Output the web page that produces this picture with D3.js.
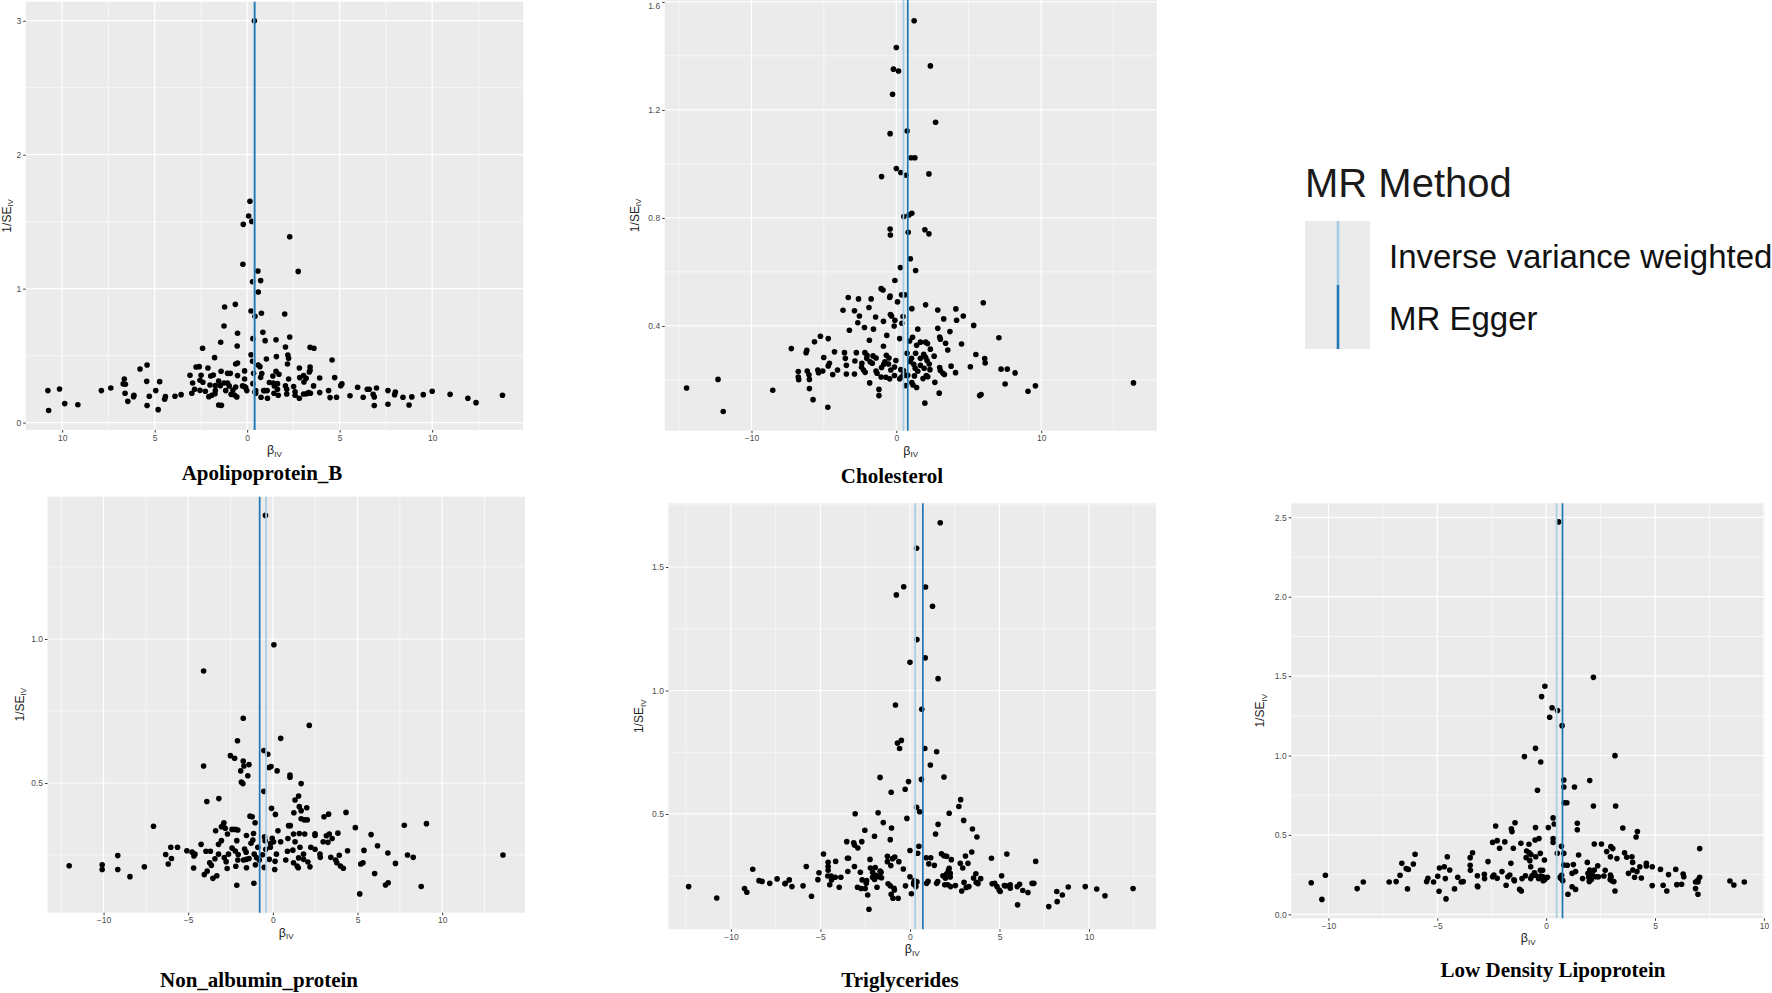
<!DOCTYPE html>
<html>
<head>
<meta charset="utf-8">
<script src="https://cdn.jsdelivr.net/npm/d3@7"></script>
<style>
body{margin:0;background:#fff}
svg{display:block}
</style>
</head>
<body>
<div id="chart"></div>
<script>
// panel titles (one funnel plot per exposure)
var titles=["Apolipoprotein_B","Cholesterol","Non_albumin_protein","Triglycerides","Low Density Lipoprotein"]
var methods=["Inverse variance weighted","MR Egger"]

// [beta_IV, 1/SE_IV] per SNP
var apoB=[[0.39,3.0],[0.15,1.652],[0.08,1.542],[0.25,1.502],[-0.21,1.48],[2.30,1.388],[-0.23,1.182],[2.76,1.129],[0.58,1.132],[0.73,1.06],[0.29,1.052],[0.60,0.975],[-1.22,0.863],[-0.64,0.883],[0.21,0.833],[0.77,0.816],[2.03,0.811],[0.42,0.794],[-1.25,0.721],[0.85,0.674],[-0.52,0.667],[0.31,0.627],[0.97,0.612],[1.56,0.619],[2.30,0.639],[-1.43,0.600],[-2.41,0.555],[-0.54,0.572],[3.40,0.562],[3.61,0.555],[2.07,0.565],[0.21,0.507],[2.20,0.505],[2.24,0.480],[-1.76,0.485],[1.58,0.493],[1.04,0.475],[4.59,0.468],[0.29,0.458],[-0.52,0.445],[-0.62,0.438],[-5.41,0.430],[-5.79,0.400],[-2.76,0.415],[-2.59,0.418],[-2.12,0.408],[0.60,0.430],[0.69,0.418],[2.18,0.438],[2.82,0.408],[3.40,0.415],[3.40,0.391],[3.36,0.378],[1.56,0.383],[1.72,0.361],[-1.41,0.383],[-1.06,0.368],[-0.91,0.368],[-1.83,0.356],[-3.09,0.353],[-2.49,0.353],[-1.97,0.348],[-0.14,0.386],[0.35,0.368],[0.79,0.366],[3.05,0.351],[2.84,0.336],[3.19,0.331],[3.92,0.333],[4.73,0.336],[1.39,0.348],[0.73,0.338],[2.24,0.326],[-6.64,0.326],[-5.43,0.308],[-4.73,0.306],[-2.55,0.316],[-2.95,0.296],[-2.39,0.301],[-1.54,0.311],[-1.25,0.296],[-1.06,0.296],[-0.14,0.326],[1.20,0.299],[1.41,0.296],[1.64,0.291],[3.07,0.303],[5.12,0.289],[-6.70,0.289],[-6.58,0.286],[-2.01,0.281],[-1.72,0.276],[-1.45,0.276],[-0.25,0.274],[0.31,0.291],[1.47,0.274],[2.07,0.274],[2.51,0.269],[3.59,0.274],[5.06,0.276],[5.97,0.264],[6.60,0.249],[6.99,0.259],[6.49,0.249],[-10.14,0.251],[-10.77,0.239],[-7.88,0.239],[-7.37,0.259],[-4.94,0.239],[-2.84,0.249],[-2.55,0.241],[-2.26,0.234],[-1.72,0.239],[-1.16,0.239],[-0.77,0.244],[-0.02,0.239],[0.46,0.239],[0.89,0.239],[1.08,0.239],[1.64,0.249],[2.14,0.249],[2.59,0.231],[3.32,0.224],[4.40,0.239],[7.61,0.239],[8.01,0.229],[10.0,0.234],[-6.60,0.219],[-2.99,0.219],[-1.74,0.216],[-0.87,0.211],[-0.69,0.206],[1.45,0.219],[2.59,0.204],[3.05,0.214],[3.20,0.216],[3.42,0.219],[3.92,0.224],[6.81,0.211],[7.97,0.209],[10.97,0.211],[13.8,0.204],[-6.12,0.204],[-5.29,0.197],[-4.42,0.194],[-3.90,0.197],[-3.57,0.209],[-2.07,0.194],[-1.91,0.204],[-0.56,0.192],[0.75,0.189],[1.68,0.204],[2.14,0.214],[4.83,0.189],[5.56,0.201],[6.27,0.189],[8.42,0.189],[8.90,0.192],[9.52,0.209],[11.93,0.182],[-6.14,0.194],[-4.46,0.174],[1.10,0.182],[2.82,0.182],[4.48,0.187],[6.87,0.192],[-6.45,0.159],[-9.86,0.142],[-9.15,0.134],[-5.41,0.127],[-1.54,0.132],[-1.39,0.129],[6.87,0.127],[7.61,0.137],[8.75,0.132],[12.37,0.149],[-10.73,0.090],[-4.81,0.097],[0.46,0.219],[0.42,0.229],[0.95,0.239],[-0.97,0.274],[-0.14,0.269],[-0.52,0.351],[-0.62,0.266],[-0.08,0.261]]

var chol=[[1.23,1.530],[0.0,1.431],[-0.20,1.351],[0.15,1.344],[2.35,1.363],[-0.26,1.258],[2.71,1.154],[-0.43,1.112],[0.74,1.122],[1.02,1.023],[1.28,1.023],[0.0,0.983],[0.31,0.968],[0.66,0.958],[2.25,0.963],[-1.02,0.953],[1.07,0.817],[0.87,0.811],[0.51,0.805],[-0.43,0.759],[-0.41,0.737],[0.82,0.747],[1.97,0.756],[2.25,0.741],[0.97,0.649],[0.28,0.616],[1.33,0.605],[-0.10,0.568],[-1.05,0.538],[-0.92,0.533],[-0.43,0.511],[-0.46,0.505],[0.36,0.515],[0.59,0.515],[-3.32,0.505],[-2.61,0.500],[-1.74,0.500],[0.08,0.489],[2.02,0.478],[6.00,0.486],[-1.89,0.468],[1.07,0.464],[-3.68,0.458],[-2.89,0.456],[2.86,0.459],[4.11,0.463],[-2.55,0.437],[-1.43,0.433],[-0.41,0.442],[-0.33,0.437],[0.46,0.435],[4.62,0.437],[3.27,0.426],[-0.10,0.421],[4.16,0.421],[-0.89,0.417],[-2.66,0.412],[0.38,0.410],[5.34,0.402],[-0.15,0.400],[-2.20,0.394],[-1.58,0.388],[1.48,0.388],[2.86,0.391],[-3.24,0.384],[3.70,0.379],[-0.66,0.365],[-5.24,0.362],[-4.70,0.353],[0.23,0.353],[1.12,0.358],[2.99,0.359],[3.04,0.351],[7.08,0.356],[-5.65,0.341],[0.92,0.344],[1.66,0.340],[2.02,0.340],[2.15,0.335],[3.40,0.336],[4.50,0.333],[-1.86,0.347],[-0.89,0.325],[1.40,0.328],[-7.25,0.316],[-6.18,0.310],[3.55,0.311],[2.35,0.314],[-6.23,0.301],[-4.27,0.304],[-3.58,0.301],[-2.76,0.301],[-2.17,0.301],[-2.02,0.291],[-1.61,0.289],[-0.69,0.291],[0.74,0.299],[1.33,0.299],[1.89,0.295],[5.49,0.294],[-5.01,0.283],[-3.52,0.280],[-2.04,0.280],[-1.40,0.281],[-0.51,0.281],[1.05,0.280],[1.66,0.280],[2.02,0.284],[2.61,0.288],[6.10,0.279],[-2.86,0.270],[-1.81,0.267],[-0.79,0.267],[-0.03,0.272],[0.95,0.268],[2.12,0.272],[6.13,0.263],[-4.62,0.262],[-4.70,0.252],[-3.45,0.254],[-2.38,0.262],[-1.66,0.262],[-0.87,0.258],[-0.54,0.259],[1.20,0.258],[1.66,0.254],[2.27,0.259],[5.11,0.249],[-2.40,0.247],[-1.02,0.246],[-0.13,0.248],[1.30,0.243],[1.92,0.243],[2.99,0.246],[3.78,0.251],[7.23,0.240],[7.66,0.240],[-5.42,0.237],[-5.08,0.233],[-4.06,0.237],[-2.27,0.237],[-1.40,0.233],[-0.38,0.237],[0.31,0.238],[0.49,0.235],[1.48,0.232],[2.32,0.238],[3.04,0.235],[-6.77,0.231],[-6.15,0.233],[-5.37,0.227],[-2.15,0.228],[-1.33,0.225],[8.20,0.226],[4.09,0.227],[3.22,0.225],[3.32,0.220],[-6.03,0.219],[-4.39,0.220],[-3.45,0.222],[-2.89,0.222],[0.66,0.217],[0.79,0.217],[1.25,0.215],[2.07,0.216],[-6.77,0.211],[-1.05,0.211],[-0.72,0.210],[-0.13,0.216],[0.36,0.211],[0.49,0.217],[2.17,0.212],[-6.74,0.201],[-6.00,0.202],[-12.31,0.202],[-0.46,0.204],[0.23,0.204],[1.84,0.205],[-1.84,0.189],[1.07,0.190],[2.66,0.191],[7.51,0.185],[16.37,0.189],[0.64,0.179],[1.15,0.181],[1.40,0.172],[9.60,0.178],[-14.48,0.170],[-6.00,0.168],[-1.20,0.165],[-8.53,0.162],[9.09,0.158],[2.96,0.151],[5.85,0.146],[5.75,0.142],[-1.20,0.142],[-5.75,0.127],[1.97,0.114],[-4.73,0.099],[-11.95,0.083]]

var nonAlb=[[-0.44,1.429],[0.06,0.980],[-4.09,0.889],[-1.75,0.725],[2.15,0.700],[-2.09,0.647],[0.46,0.655],[-0.53,0.613],[-0.30,0.600],[-2.51,0.595],[-2.26,0.586],[-1.75,0.576],[-1.41,0.564],[-4.09,0.559],[-1.71,0.559],[-0.23,0.554],[-0.11,0.557],[0.25,0.542],[-1.90,0.542],[-1.48,0.525],[1.01,0.528],[1.01,0.520],[-1.86,0.503],[-1.77,0.498],[1.67,0.498],[-0.53,0.471],[1.52,0.455],[-3.19,0.446],[-3.90,0.436],[1.31,0.441],[1.56,0.418],[2.00,0.414],[-0.08,0.412],[1.67,0.404],[1.24,0.397],[0.15,0.391],[4.32,0.398],[3.29,0.392],[3.02,0.383],[-1.35,0.385],[-1.22,0.383],[1.67,0.376],[1.86,0.372],[2.03,0.372],[-1.05,0.362],[-2.89,0.362],[-2.93,0.354],[-7.05,0.350],[0.93,0.352],[1.03,0.352],[4.87,0.345],[7.76,0.353],[9.07,0.359],[-3.04,0.348],[-2.81,0.343],[-2.41,0.339],[-2.22,0.339],[-2.07,0.337],[-3.38,0.334],[0.30,0.334],[1.22,0.323],[1.56,0.325],[1.88,0.323],[2.49,0.324],[3.16,0.317],[3.33,0.323],[3.84,0.326],[5.80,0.321],[-1.14,0.325],[-1.56,0.318],[-0.49,0.313],[-0.04,0.308],[0.89,0.307],[2.49,0.318],[3.50,0.307],[-2.68,0.323],[-3.04,0.300],[-2.13,0.300],[-1.18,0.302],[-0.46,0.300],[0.04,0.296],[0.46,0.296],[1.31,0.296],[2.97,0.296],[3.25,0.294],[-4.24,0.287],[-3.21,0.287],[-1.29,0.291],[-0.13,0.291],[6.18,0.282],[-6.03,0.277],[-5.63,0.277],[-2.41,0.274],[-1.67,0.271],[-0.89,0.277],[-0.15,0.277],[1.60,0.277],[2.24,0.277],[2.49,0.270],[-0.42,0.270],[-5.08,0.265],[-4.77,0.260],[-3.95,0.263],[-3.69,0.263],[-2.22,0.264],[-1.58,0.260],[0.86,0.263],[1.18,0.267],[4.41,0.265],[5.38,0.266],[6.79,0.257],[-6.33,0.252],[-4.60,0.253],[-3.21,0.253],[-2.62,0.253],[-2.05,0.252],[-1.10,0.253],[-0.61,0.251],[0.21,0.253],[1.81,0.253],[2.78,0.253],[-9.16,0.248],[7.95,0.250],[8.29,0.242],[13.59,0.250],[-5.99,0.238],[-4.66,0.247],[-3.42,0.237],[-2.87,0.241],[-1.41,0.238],[-0.97,0.241],[-0.21,0.235],[0.76,0.233],[1.52,0.240],[2.80,0.242],[3.42,0.242],[3.92,0.249],[-2.07,0.233],[-1.73,0.233],[-1.56,0.235],[-0.80,0.233],[1.81,0.235],[2.07,0.226],[3.71,0.233],[-3.73,0.223],[-2.76,0.227],[0.13,0.228],[1.22,0.223],[3.78,0.223],[5.19,0.219],[5.32,0.223],[7.24,0.221],[-6.18,0.219],[-10.08,0.216],[-12.03,0.213],[-7.59,0.209],[-3.63,0.214],[-1.03,0.216],[-1.56,0.206],[1.43,0.212],[1.50,0.206],[2.19,0.209],[3.99,0.212],[-2.19,0.211],[-2.70,0.203],[-4.68,0.205],[-0.51,0.207],[0.11,0.200],[4.16,0.204],[-10.08,0.200],[-9.16,0.200],[-3.88,0.194],[-4.05,0.182],[-3.31,0.178],[-3.54,0.169],[6.01,0.186],[-8.44,0.175],[-1.12,0.152],[-2.13,0.145],[6.65,0.146],[6.81,0.154],[8.76,0.141],[5.13,0.115]]

var trig=[[1.69,1.679],[0.37,1.576],[-0.35,1.420],[0.87,1.419],[-0.76,1.387],[1.26,1.341],[0.39,1.206],[0.85,1.132],[0.0,1.114],[1.57,1.048],[-0.81,0.941],[0.66,0.924],[-0.48,0.798],[-0.70,0.787],[-0.58,0.765],[0.83,0.765],[1.49,0.752],[1.14,0.698],[-1.67,0.648],[1.90,0.650],[0.64,0.640],[-0.08,0.631],[-0.27,0.600],[-1.05,0.588],[2.83,0.558],[2.73,0.530],[0.37,0.527],[0.54,0.509],[-3.06,0.501],[-1.78,0.505],[2.19,0.503],[-0.17,0.482],[3.00,0.474],[-1.49,0.465],[1.57,0.458],[-1.03,0.443],[-2.52,0.434],[3.49,0.439],[1.43,0.419],[-1.98,0.410],[3.74,0.407],[-1.10,0.396],[-3.53,0.388],[-3.14,0.383],[-2.69,0.388],[-3.10,0.374],[-2.91,0.362],[0.50,0.369],[0.0,0.352],[0.43,0.341],[1.76,0.339],[3.45,0.346],[-4.83,0.338],[5.41,0.338],[1.90,0.331],[2.05,0.329],[3.10,0.330],[-1.26,0.329],[-0.85,0.326],[-0.97,0.319],[0.91,0.323],[1.16,0.323],[4.55,0.321],[-3.49,0.321],[-3.43,0.321],[-2.23,0.316],[2.31,0.315],[7.02,0.308],[-4.15,0.308],[-4.57,0.304],[-1.26,0.307],[-0.62,0.307],[1.05,0.298],[1.36,0.292],[3.24,0.300],[2.81,0.300],[-5.79,0.287],[-4.57,0.287],[-3.10,0.287],[-2.21,0.281],[-1.07,0.291],[-0.37,0.277],[2.95,0.281],[-8.78,0.276],[-4.57,0.272],[-1.94,0.283],[2.19,0.280],[2.15,0.272],[-3.47,0.267],[-1.67,0.269],[-1.61,0.264],[-2.77,0.264],[-5.08,0.262],[-2.09,0.264],[2.05,0.258],[2.25,0.260],[3.68,0.258],[-4.59,0.249],[-4.40,0.249],[-1.90,0.252],[-1.74,0.246],[1.84,0.250],[5.12,0.250],[-4.17,0.244],[-3.86,0.244],[-2.09,0.244],[-1.59,0.242],[0.0,0.246],[1.98,0.240],[2.25,0.245],[3.55,0.241],[3.95,0.238],[-7.42,0.237],[-5.14,0.234],[-4.38,0.233],[-2.67,0.233],[-1.98,0.235],[-8.43,0.230],[-8.26,0.227],[-6.74,0.233],[-2.42,0.230],[0.25,0.230],[1.01,0.227],[1.55,0.226],[3.70,0.223],[3.80,0.218],[-7.83,0.219],[-6.96,0.219],[-2.44,0.219],[0.21,0.221],[0.39,0.225],[0.93,0.219],[1.49,0.219],[4.59,0.217],[4.73,0.219],[6.12,0.215],[6.82,0.219],[6.92,0.219],[3.02,0.223],[-6.98,0.217],[-4.48,0.213],[-1.22,0.217],[0.21,0.215],[1.94,0.213],[2.11,0.213],[2.54,0.210],[5.27,0.210],[5.60,0.213],[5.99,0.206],[-12.36,0.206],[-6.59,0.206],[-5.97,0.209],[-3.95,0.203],[-2.93,0.203],[-1.10,0.209],[-0.25,0.209],[0.33,0.206],[2.27,0.206],[3.29,0.206],[4.86,0.206],[5.35,0.209],[8.84,0.204],[9.79,0.206],[-9.24,0.198],[-2.73,0.198],[-2.50,0.198],[-1.84,0.203],[-0.89,0.199],[5.60,0.199],[10.43,0.196],[12.46,0.198],[3.14,0.202],[-0.87,0.192],[4.98,0.192],[5.04,0.186],[6.30,0.190],[-9.11,0.183],[2.89,0.188],[6.59,0.182],[8.20,0.186],[0.08,0.177],[-1.05,0.175],[-2.36,0.172],[8.51,0.172],[10.89,0.169],[-10.79,0.160],[-5.50,0.167],[-0.95,0.159],[-0.66,0.159],[6.01,0.132],[8.22,0.145],[7.75,0.125],[-2.29,0.114]]

var ldl=[[0.57,2.471],[2.17,1.492],[-0.06,1.436],[-0.21,1.371],[0.27,1.301],[0.52,1.283],[0.16,1.241],[0.73,1.188],[-0.49,1.045],[-1.0,0.993],[3.16,0.999],[-0.25,0.959],[2.0,0.842],[0.81,0.846],[0.81,0.802],[1.30,0.802],[-0.40,0.781],[0.83,0.703],[0.95,0.703],[2.17,0.682],[3.19,0.682],[0.32,0.607],[0.37,0.569],[-2.32,0.556],[-1.43,0.577],[1.43,0.573],[3.52,0.544],[-0.49,0.546],[0.10,0.546],[1.43,0.533],[-1.60,0.539],[-1.57,0.521],[4.19,0.521],[4.13,0.487],[-0.33,0.477],[-0.51,0.468],[0.32,0.477],[0.32,0.453],[-2.25,0.464],[-2.46,0.453],[-1.90,0.456],[-1.16,0.447],[-0.79,0.441],[2.21,0.443],[2.54,0.443],[0.70,0.428],[2.97,0.426],[-2.14,0.416],[-1.51,0.416],[3.06,0.414],[-0.90,0.399],[-0.27,0.384],[-0.78,0.388],[-0.70,0.376],[0.51,0.384],[0.81,0.384],[3.60,0.388],[7.05,0.414],[-6.02,0.378],[-3.38,0.388],[1.49,0.374],[2.78,0.395],[2.95,0.363],[3.25,0.351],[3.94,0.363],[3.70,0.359],[-4.54,0.363],[-3.49,0.357],[-0.92,0.357],[-0.48,0.363],[-0.08,0.342],[-0.75,0.338],[-2.67,0.332],[-1.62,0.321],[-6.63,0.321],[-6.10,0.317],[1.89,0.327],[3.97,0.327],[4.60,0.321],[0.81,0.311],[0.97,0.309],[1.25,0.313],[-3.49,0.309],[-0.71,0.300],[-4.68,0.300],[4.87,0.300],[4.30,0.300],[4.60,0.304],[2.37,0.306],[-4.90,0.292],[-4.43,0.279],[-6.43,0.288],[-6.33,0.283],[-3.48,0.277],[-0.27,0.277],[-0.16,0.277],[1.35,0.269],[2.0,0.279],[2.71,0.277],[3.98,0.279],[5.25,0.283],[5.95,0.283],[2.21,0.279],[2.11,0.264],[4.17,0.269],[-2.03,0.269],[-0.54,0.262],[1.92,0.258],[3.78,0.258],[1.19,0.258],[6.29,0.254],[-2.84,0.252],[5.62,0.250],[2.05,0.248],[2.95,0.248],[-2.40,0.248],[-1.67,0.248],[-6.71,0.246],[-10.14,0.246],[-4.98,0.239],[-4.06,0.233],[-3.16,0.243],[-2.46,0.237],[-1.76,0.237],[-0.95,0.243],[-0.65,0.243],[-0.49,0.246],[-0.25,0.241],[-0.14,0.237],[0.06,0.233],[0.63,0.233],[0.71,0.246],[2.14,0.241],[2.30,0.237],[2.40,0.237],[2.65,0.241],[2.98,0.237],[6.32,0.237],[7.05,0.233],[4.06,0.233],[4.37,0.229],[1.95,0.233],[-5.43,0.227],[-4.63,0.225],[-2.83,0.225],[-2.25,0.227],[-1.48,0.218],[-1.11,0.225],[-0.71,0.225],[-0.35,0.225],[-0.06,0.220],[0.68,0.225],[1.67,0.225],[2.08,0.220],[2.94,0.220],[3.03,0.210],[6.97,0.216],[8.44,0.210],[-10.79,0.199],[-8.40,0.204],[-7.21,0.204],[-6.89,0.206],[-5.49,0.206],[-5.17,0.204],[-3.90,0.204],[-3.81,0.206],[-1.46,0.212],[-0.14,0.212],[0.76,0.212],[1.98,0.206],[3.11,0.206],[6.86,0.204],[6.97,0.204],[9.10,0.204],[8.62,0.185],[5.37,0.183],[6.0,0.187],[6.22,0.189],[4.87,0.181],[-1.84,0.183],[-3.16,0.178],[-3.14,0.174],[1.19,0.174],[-8.68,0.162],[-6.37,0.160],[-4.21,0.160],[6.86,0.162],[1.35,0.157],[-1.22,0.157],[-1.14,0.147],[-4.92,0.145],[3.16,0.147],[5.54,0.147],[1.0,0.126],[6.97,0.126],[-10.30,0.094],[-4.60,0.097]]

var series=[apoB,chol,nonAlb,trig,ldl]

// causal estimates drawn as vertical lines
var ivwBeta=[0.37,0.49,-0.40,0.29,0.48]
var eggerBeta=[0.41,0.79,-0.78,0.72,0.75]

// axis ranges and ticks
var xDomains=[[-11.97,14.92],[-15.99,17.98],[-13.31,14.89],[-13.49,13.74],[-11.71,10.05]]
var yDomains=[[-0.055,3.142],[0.012,1.607],[0.0498,1.494],[0.033,1.758],[-0.025,2.588]]
var xTicks=[[-10,-5,0,5,10],[-10,0,10],[-10,-5,0,5,10],[-10,-5,0,5,10],[-10,-5,0,5,10]]
var yTicks=[[0,1,2,3],[0.4,0.8,1.2,1.6],[0.5,1.0],[0.5,1.0,1.5],[0,0.5,1.0,1.5,2.0,2.5]]

var colours={ivw:"#a6cee3",egger:"#1f78b4"}

var layout=[
  {left:25.7,right:523.2,top:1.7,bottom:430,tx:262,ty:480,yOff:-15},
  {left:664.7,right:1156.8,top:0,bottom:430.7,tx:892,ty:483,yOff:-26},
  {left:47.5,right:525,top:496.7,bottom:912.7,tx:259,ty:987,yOff:-24},
  {left:668.4,right:1156,top:503.3,bottom:929.3,tx:900,ty:987,yOff:-25},
  {left:1291.2,right:1765,top:503.3,bottom:918.3,tx:1553,ty:977,yOff:-27}
]

var svg=d3.select("#chart").append("svg")
  .attr("width",1772)
  .attr("height",993)
  .style("font-family","'Liberation Sans', Arial, sans-serif")

function minorOf(ticks,dom){
  var step=ticks[1]-ticks[0], out=[]
  for(var v=ticks[0]-step/2; v<=ticks[ticks.length-1]+step/2+1e-9; v+=step){
    if(v>=dom[0] && v<=dom[1]) out.push(v)
  }
  return out
}

for(var i=0;i<5;i++){
  var L=layout[i]
  var xScale=d3.scaleLinear().domain(xDomains[i]).range([L.left,L.right])
  var yScale=d3.scaleLinear().domain(yDomains[i]).range([L.bottom,L.top])
  var g=svg.append("g")

  // panel background
  g.append("rect")
    .attr("x",L.left).attr("y",L.top)
    .attr("width",L.right-L.left).attr("height",L.bottom-L.top)
    .attr("fill","#ebebeb")

  // minor grid
  g.selectAll(".mx").data(minorOf(xTicks[i],xDomains[i])).enter().append("line")
    .attr("x1",function(d){return xScale(d)}).attr("x2",function(d){return xScale(d)})
    .attr("y1",L.top).attr("y2",L.bottom)
    .attr("stroke","#fff").attr("stroke-width",0.6)
  g.selectAll(".my").data(minorOf(yTicks[i],yDomains[i])).enter().append("line")
    .attr("y1",function(d){return yScale(d)}).attr("y2",function(d){return yScale(d)})
    .attr("x1",L.left).attr("x2",L.right)
    .attr("stroke","#fff").attr("stroke-width",0.6)
  // major grid
  g.selectAll(".gx").data(xTicks[i]).enter().append("line")
    .attr("x1",function(d){return xScale(d)}).attr("x2",function(d){return xScale(d)})
    .attr("y1",L.top).attr("y2",L.bottom)
    .attr("stroke","#fff").attr("stroke-width",1.2)
  g.selectAll(".gy").data(yTicks[i]).enter().append("line")
    .attr("y1",function(d){return yScale(d)}).attr("y2",function(d){return yScale(d)})
    .attr("x1",L.left).attr("x2",L.right)
    .attr("stroke","#fff").attr("stroke-width",1.2)

  // points
  g.selectAll("circle").data(series[i]).enter().append("circle")
    .attr("cx",function(d){return xScale(d[0])})
    .attr("cy",function(d){return yScale(d[1])})
    .attr("r",2.8)
    .style("fill","#000")

  // method lines
  g.append("line")
    .attr("x1",xScale(ivwBeta[i])).attr("x2",xScale(ivwBeta[i]))
    .attr("y1",L.top).attr("y2",L.bottom)
    .attr("stroke",colours.ivw).attr("stroke-width",1.7)
  g.append("line")
    .attr("x1",xScale(eggerBeta[i])).attr("x2",xScale(eggerBeta[i]))
    .attr("y1",L.top).attr("y2",L.bottom)
    .attr("stroke",colours.egger).attr("stroke-width",1.7)

  // axes
  var xFmt=(i==0) ? function(d){return String(Math.abs(d))} : d3.format("d")
  var yFmt=(i==0) ? d3.format("d") : d3.format(".1f")
  var xa=g.append("g")
    .attr("transform","translate(0,"+L.bottom+")")
    .call(d3.axisBottom(xScale).tickValues(xTicks[i]).tickFormat(xFmt).tickSize(2.5).tickPadding(2))
  var ya=g.append("g")
    .attr("transform","translate("+L.left+",0)")
    .call(d3.axisLeft(yScale).tickValues(yTicks[i]).tickFormat(yFmt).tickSize(2.5).tickPadding(2))
  ;[xa,ya].forEach(function(a){
    a.select(".domain").remove()
    a.selectAll("line").attr("stroke","#333")
    a.selectAll("text").attr("fill","#4d4d4d")
      .style("font-size","8.5px").style("font-family","'Liberation Sans', Arial, sans-serif")
  })
  // keep a label sitting on the very top edge inside the page
  ya.selectAll("text").attr("dy",function(d){return (yScale(d)<4) ? "0.75em" : "0.32em"})

  // axis titles
  var xt=g.append("text")
    .attr("x",(L.left+L.right)/2).attr("y",L.bottom+24)
    .attr("text-anchor","middle")
    .style("font-size","12.5px").attr("fill","#222")
  xt.append("tspan").text("β")
  xt.append("tspan").text("IV").attr("dy",2.5).style("font-size","8px")

  var yt=g.append("text")
    .attr("transform","translate("+(L.left+L.yOff)+","+((L.top+L.bottom)/2)+") rotate(-90)")
    .attr("text-anchor","middle")
    .style("font-size","12px").attr("fill","#222")
  yt.append("tspan").text("1/SE")
  yt.append("tspan").text("IV").attr("dy",2.5).style("font-size","8px")

  // panel title
  g.append("text")
    .attr("x",L.tx).attr("y",L.ty)
    .attr("text-anchor","middle")
    .style("font-family","'Liberation Serif', 'Times New Roman', serif")
    .style("font-weight","bold")
    .style("font-size","21px")
    .text(titles[i])
}

// legend
var leg=svg.append("g")
leg.append("text")
  .attr("x",1305).attr("y",197)
  .style("font-size","40px").attr("fill","#1a1a1a")
  .text("MR Method")
var keyCol=[colours.ivw,colours.egger]
leg.selectAll(".key").data(methods).enter().append("rect")
  .attr("x",1305).attr("y",function(d,k){return 221+k*64})
  .attr("width",65).attr("height",64)
  .attr("fill","#ebebeb")
leg.selectAll(".kl").data(methods).enter().append("line")
  .attr("x1",1338).attr("x2",1338)
  .attr("y1",function(d,k){return 221+k*64}).attr("y2",function(d,k){return 285+k*64})
  .attr("stroke",function(d,k){return keyCol[k]}).attr("stroke-width",2.6)
leg.selectAll(".lt").data(methods).enter().append("text")
  .attr("x",1389).attr("y",function(d,k){return 268+k*62})
  .style("font-size","33px").attr("fill","#111")
  .text(function(d){return d})
</script>
</body>
</html>
